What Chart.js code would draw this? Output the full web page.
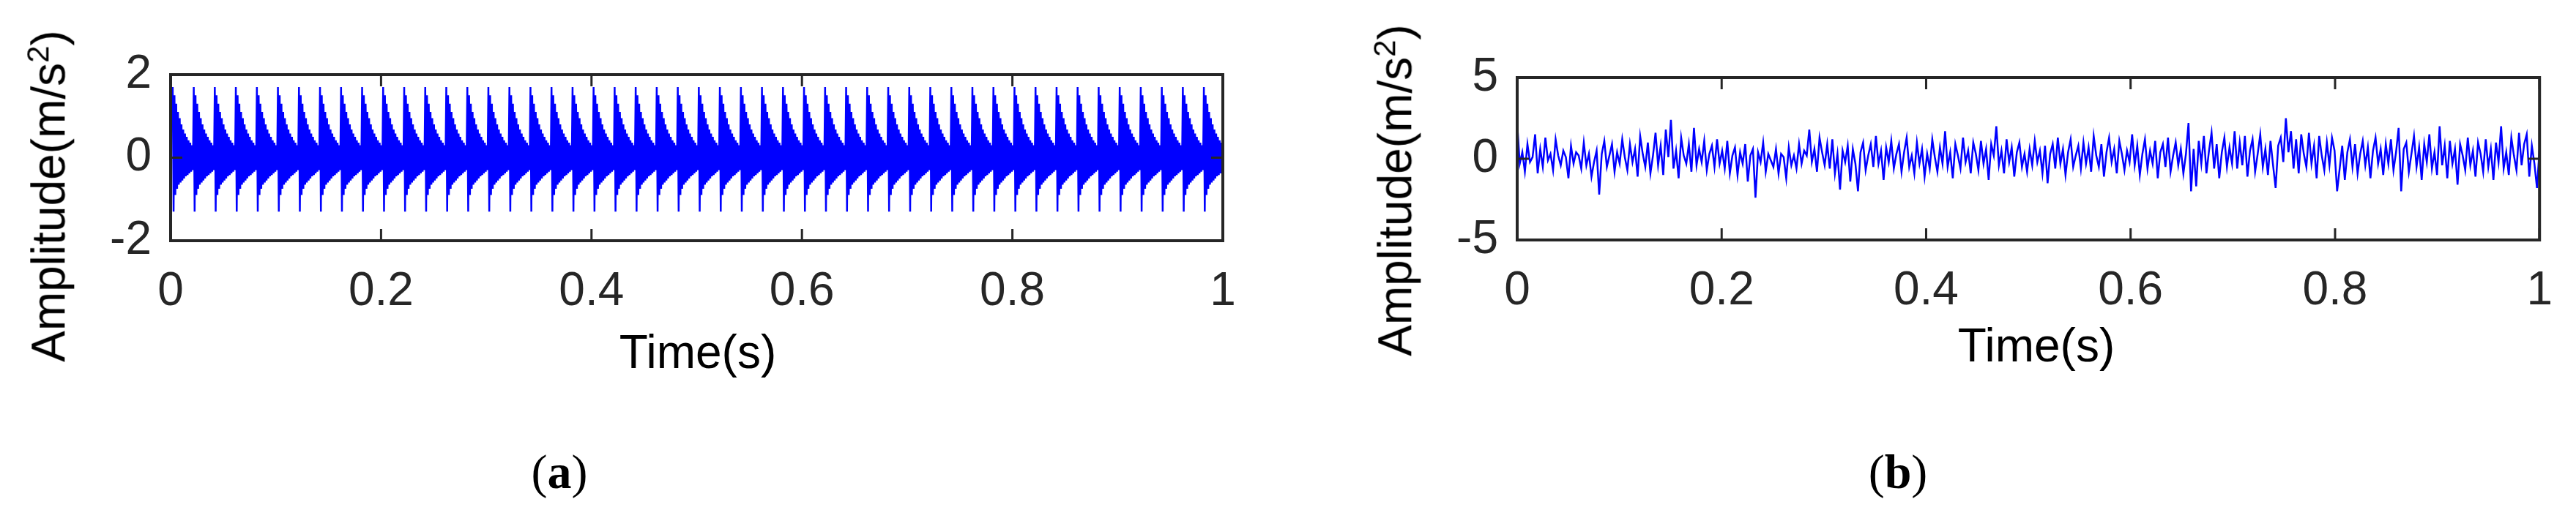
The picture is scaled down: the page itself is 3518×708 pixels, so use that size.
<!DOCTYPE html>
<html><head><meta charset="utf-8">
<script src="https://cdn.jsdelivr.net/npm/chart.js@4"></script>
<style>
body{margin:0;width:3518px;height:708px;background:#fff;position:relative;overflow:hidden;font-family:"Liberation Sans",Arial,sans-serif}
canvas{position:absolute}
.t{position:absolute;font-size:64px;color:#000;white-space:nowrap;transform:translate(-50%,-50%)}
.yl{transform:translate(-50%,-50%) rotate(-90deg)}
.cap{font-family:"Liberation Serif",serif;font-size:66px}
</style></head><body>
<div id="wa" style="position:absolute;left:0;top:0;width:1760px;height:708px"><canvas id="ca"></canvas></div>
<div id="wb" style="position:absolute;left:1760px;top:0;width:1758px;height:708px"><canvas id="cb"></canvas></div>
<div class="t" style="left:953px;top:481px">Time(s)</div>
<div class="t" style="left:2781px;top:472px">Time(s)</div>
<div class="t yl" style="left:66px;top:268px">Amplitude(m/s<sup style="font-size:42px">2</sup>)</div>
<div class="t yl" style="left:1905px;top:260px">Amplitude(m/s<sup style="font-size:42px">2</sup>)</div>
<div class="t cap" style="left:764px;top:645px">(<b>a</b>)</div>
<div class="t cap" style="left:2592px;top:645px">(<b>b</b>)</div>
<script>
const xTicks=[0,0.2,0.4,0.6,0.8,1];
const yTicksA=[-2,0,2];
const yTicksB=[-5,0,5];
// impulse onset times (s) for signal (a)
const impulseStartsA=[0.002,0.022,0.042,0.062,0.082,0.102,0.122,0.142,0.162,0.182,0.202,0.222,0.242,0.262,0.282,0.302,0.322,0.342,0.362,0.382,0.402,0.422,0.442,0.462,0.482,0.502,0.522,0.542,0.562,0.582,0.602,0.622,0.642,0.662,0.682,0.702,0.722,0.742,0.762,0.782,0.802,0.822,0.842,0.862,0.882,0.902,0.922,0.942,0.962,0.982];
// one impulse response (samples spaced 0.02/24 s)
const impulseShapeA=[1.7,-1.3,1.5,-0.9,1.3,-0.75,1.1,-0.65,0.95,-0.6,0.8,-0.55,0.68,-0.5,0.58,-0.45,0.5,-0.42,0.42,-0.38,0.36,-0.34,0.3,-0.3];
const signalB=[
2.2,-0.3,0.4,-0.8,0.9,-0.2,0.1,1.5,-0.9,0.6,-0.5,1.3,-0.1,0.3,-0.7,1.2,0.2,-0.4,0.5,0.1,
-1.2,0.8,-0.3,0.4,0.2,-0.6,1.0,-0.4,0.3,-1.1,-0.2,0.5,-2.2,0.3,1.1,-0.5,0.2,0.9,-0.8,0.4,
-0.3,1.2,0.1,-0.7,0.9,-0.2,0.6,-1.1,1.4,0.3,-0.5,1.0,-0.9,0.2,1.6,-0.4,0.8,-1.0,1.8,0.1,
2.4,-0.6,0.5,-1.2,1.3,0.2,-0.3,0.9,-0.8,1.9,-0.4,0.6,-0.2,1.1,-0.7,0.3,0.8,-0.5,1.2,-0.3,
0.5,-0.6,1.1,-0.9,0.2,0.7,-1.0,0.4,-0.3,0.9,-1.4,0.2,0.6,-2.4,0.4,-0.2,1.0,-0.8,0.3,-0.1,
-0.5,0.6,-0.9,0.3,0.1,-1.2,0.7,-0.4,0.2,-0.6,0.9,-0.3,0.5,0.2,1.8,-0.2,0.6,-0.8,1.3,0.4,
-0.4,0.9,-0.6,1.2,-0.9,0.3,-1.9,0.5,-0.2,0.8,-1.4,0.6,-0.3,-2.0,0.4,1.0,-0.7,0.2,0.9,-0.5,
1.4,-0.3,0.5,-1.3,0.7,-0.2,1.1,-0.6,0.3,0.9,-0.8,0.4,1.3,-0.5,0.2,-0.9,1.0,-0.3,0.6,-1.1,
0.3,-0.6,1.2,0.1,-0.8,0.7,-0.3,1.7,-0.5,0.4,-1.2,0.9,0.2,-0.6,1.3,-0.2,0.5,-0.9,1.0,0.3,
-0.7,1.1,-0.3,0.6,-1.3,0.9,0.2,2.0,-0.4,0.5,-0.9,1.2,-0.2,0.7,-1.1,0.4,1.0,-0.5,0.3,-0.8,
0.6,-0.4,1.1,-0.2,0.5,-0.9,0.8,-1.5,0.3,0.9,-0.6,1.3,-0.3,0.6,-1.0,0.4,1.2,-0.5,0.2,0.8,
-0.6,1.0,-0.3,0.7,-0.8,1.4,0.2,-0.5,0.9,-1.1,0.4,1.3,-0.2,0.6,-0.9,1.1,0.3,-0.7,0.5,-0.2,
1.5,-0.4,0.8,-1.0,0.3,1.2,-0.6,0.5,-0.3,1.1,-1.2,0.4,0.9,-0.5,1.3,-0.8,0.2,1.0,-0.4,0.6,
-0.9,0.3,2.2,-2.0,0.6,-1.7,1.1,-0.3,1.4,-0.9,0.5,1.6,-0.6,0.9,-1.2,0.4,1.3,-0.5,0.7,-0.3,
1.7,-0.6,1.0,-0.4,1.4,-1.1,0.5,1.2,-0.8,0.3,1.5,-0.5,0.6,-1.0,1.1,-0.4,-1.8,0.8,1.3,-0.2,
2.5,0.4,1.7,-0.6,1.2,-0.9,1.5,0.3,-0.5,1.6,-0.3,0.8,-1.2,1.4,0.2,-0.7,1.0,-0.4,1.3,0.5,
-2.0,-0.6,0.8,-1.3,0.4,1.2,-0.5,0.9,-0.9,0.3,1.1,-0.4,0.7,-1.2,0.5,1.3,-0.3,0.6,-1.0,0.9,
-0.3,1.2,-0.7,0.4,1.9,-2.0,0.6,1.0,-0.8,0.3,1.4,-0.5,0.7,-1.3,0.9,-0.2,1.5,-0.6,0.4,-1.0,
2.0,-0.4,0.8,-1.2,1.1,-0.3,0.6,-1.6,0.9,0.2,-0.7,1.3,-0.4,0.5,-1.1,1.0,0.3,-0.8,1.2,-0.5,
0.6,-1.3,1.0,-0.2,2.0,-0.6,0.4,-1.0,1.3,0.2,-0.7,1.6,-0.4,0.9,1.5,-1.1,0.8,-0.3,-1.8,0.6];

const dataA=[];
impulseStartsA.forEach(t0=>impulseShapeA.forEach((v,i)=>dataA.push({x:t0+i*0.02/impulseShapeA.length,y:v})));
const dataB=signalB.map((v,i)=>({x:i/(signalB.length-1),y:v}));

const inTicks={id:'inTicks',afterDraw(c){const g=c.ctx,a=c.chartArea,xs=c.scales.x,ys=c.scales.y;g.save();g.strokeStyle='#262626';g.lineWidth=3;
 xTicks.forEach(t=>{const p=xs.getPixelForValue(t);g.beginPath();g.moveTo(p,a.top);g.lineTo(p,a.top+16);g.moveTo(p,a.bottom);g.lineTo(p,a.bottom-16);g.stroke();});
 ys.ticks.forEach(t=>{const p=ys.getPixelForValue(t.value);g.beginPath();g.moveTo(a.left,p);g.lineTo(a.left+16,p);g.moveTo(a.right,p);g.lineTo(a.right-16,p);g.stroke();});
 g.lineWidth=4;g.strokeRect(a.left,a.top,a.right-a.left,a.bottom-a.top);g.restore();}};

function make(id,data,yt,left,top,right,bottom,W){
 new Chart(document.getElementById(id),{type:'line',data:{datasets:[{data,borderColor:'#0000ff',borderWidth:2.5,pointRadius:0,tension:0}]},
 options:{responsive:true,maintainAspectRatio:false,animation:false,parsing:false,normalized:true,
  plugins:{legend:{display:false},tooltip:{enabled:false}},
  layout:{padding:{top:top,right:W-right,left:0,bottom:0}},
  scales:{
   x:{type:'linear',min:0,max:1,afterBuildTicks:s=>{s.ticks=xTicks.map(v=>({value:v}));},
      ticks:{font:{size:64,family:'Liberation Sans'},color:'#262626',padding:32,maxRotation:0,callback:v=>String(v)},
      grid:{display:false,drawTicks:false},border:{display:false},afterFit:s=>{s.height=708-bottom;}},
   y:{type:'linear',min:yt[0],max:yt[2],afterBuildTicks:s=>{s.ticks=yt.map(v=>({value:v}));},
      ticks:{font:{size:64,family:'Liberation Sans'},color:'#262626',padding:26,callback:v=>String(v)},
      grid:{display:false,drawTicks:false},border:{display:false},afterFit:s=>{s.width=left;}}
  }},plugins:[inTicks]});
}
make('ca',dataA,yTicksA,233,102,1670,329,1760);
make('cb',dataB,yTicksB,312,106,1731,328,1758);
</script></body></html>
